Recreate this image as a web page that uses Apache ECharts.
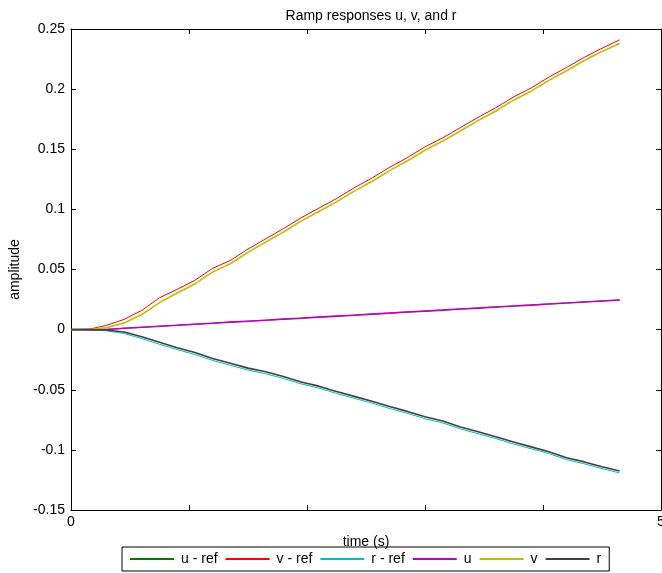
<!DOCTYPE html>
<html><head><meta charset="utf-8">
<script src="https://cdn.jsdelivr.net/npm/echarts@6/dist/echarts.min.js"></script>
<style>html,body{margin:0;padding:0;background:#fff}#c{width:662px;height:573px}</style>
</head><body><div id="c"></div>
<script>
const time = [0,0.15,0.3,0.45,0.6,0.75,0.9,1.05,1.2,1.35,1.5,1.65,1.8,1.95,2.1,2.25,2.4,2.55,2.7,2.85,3,3.15,3.3,3.45,3.6,3.75,3.9,4.05,4.2,4.35,4.5,4.65];
const uRef = [0,0,0.0002,0.0011,0.0019,0.0028,0.0037,0.0045,0.0054,0.0062,0.0070,0.0079,0.0087,0.0096,0.0104,0.0112,0.0121,0.0129,0.0138,0.0146,0.0154,0.0163,0.0171,0.0180,0.0188,0.0196,0.0205,0.0213,0.0222,0.0230,0.0238,0.0247];
const vRef = [0,0.0003,0.0035,0.0085,0.0160,0.0265,0.0335,0.0410,0.0510,0.0575,0.0670,0.0755,0.0840,0.0930,0.1010,0.1090,0.1180,0.1260,0.1350,0.1430,0.1520,0.1595,0.1680,0.1765,0.1845,0.1935,0.2010,0.2100,0.2180,0.2265,0.2340,0.2410];
const rRef = [0,-0.0002,-0.0010,-0.0032,-0.0075,-0.0122,-0.0166,-0.0207,-0.0256,-0.0296,-0.0336,-0.0367,-0.0406,-0.0451,-0.0486,-0.0531,-0.0571,-0.0611,-0.0656,-0.0696,-0.0741,-0.0776,-0.0826,-0.0866,-0.0906,-0.0951,-0.0991,-0.1031,-0.1081,-0.1116,-0.1156,-0.1192];
const u = [0,0,0.0001,0.0011,0.0020,0.0028,0.0036,0.0045,0.0053,0.0062,0.0070,0.0078,0.0087,0.0095,0.0104,0.0112,0.0120,0.0129,0.0137,0.0146,0.0154,0.0162,0.0171,0.0179,0.0188,0.0196,0.0204,0.0213,0.0221,0.0230,0.0238,0.0246];
const v = [0,0.0001,0.0015,0.0055,0.0125,0.0225,0.0305,0.0380,0.0478,0.0548,0.0642,0.0728,0.0812,0.0902,0.0982,0.1062,0.1152,0.1232,0.1322,0.1402,0.1492,0.1568,0.1652,0.1738,0.1818,0.1908,0.1983,0.2073,0.2153,0.2238,0.2313,0.2380];
const r = [0,0,-0.0003,-0.0020,-0.0060,-0.0105,-0.0150,-0.0190,-0.0240,-0.0280,-0.0320,-0.0350,-0.0390,-0.0435,-0.0470,-0.0515,-0.0555,-0.0595,-0.0640,-0.0680,-0.0725,-0.0760,-0.0810,-0.0850,-0.0890,-0.0935,-0.0975,-0.1015,-0.1065,-0.1100,-0.1140,-0.1176];
const seriesNames = ['u - ref','v - ref','r - ref','u','v','r'];
const seriesData = [uRef, vRef, rRef, u, v, r];
const colors = ['#008000','#ff0000','#00bfbf','#bf00bf','#bfbf00','#404040'];
const widths = [1,1,1,1.6,1.6,1.6];
const xTickLabels = ['0','5'];

const font = 'Liberation Sans, Arial, sans-serif';
const FS = 14;
const chart = echarts.init(document.getElementById('c'), null, {renderer:'canvas'});
const axisCommon = {
  axisLine:{show:true, onZero:false, lineStyle:{color:'#000', width:1}},
  axisTick:{show:true, inside:true, length:5, lineStyle:{color:'#000'}},
  splitLine:{show:false}
};
chart.setOption({
  animation:false,
  backgroundColor:'#fff',
  textStyle:{fontFamily:font},
  title:{text:'Ramp responses u, v, and r', left:366, textAlign:'center', top:4,
    textStyle:{fontSize:FS, fontWeight:'normal', color:'#000', fontFamily:font}},
  grid:{left:71, right:1, top:29, bottom:63, outerBoundsMode:'none', containLabel:false},
  legend:{
    data:seriesNames, left:122, top:547, orient:'horizontal', icon:'rect',
    itemWidth:44, itemHeight:2, itemGap:8,
    borderColor:'#000', borderWidth:1, padding:[5,8],
    textStyle:{fontSize:FS, color:'#000', fontFamily:font, padding:[0,0,0,2]}
  },
  xAxis:[
    Object.assign({type:'value', min:0, max:5, interval:1, position:'bottom',
      name:'time (s)', nameLocation:'middle', nameGap:25,
      nameTextStyle:{fontSize:FS, color:'#000', fontFamily:font},
      axisLabel:{color:'#000', fontSize:FS, margin:5, fontFamily:font,
        formatter:val => xTickLabels.includes(String(val)) ? String(val) : ''}}, axisCommon),
    Object.assign({type:'value', min:0, max:5, interval:1, position:'top',
      axisLabel:{show:false}}, axisCommon)
  ],
  yAxis:[
    Object.assign({type:'value', min:-0.15, max:0.25, interval:0.05, position:'left',
      name:'amplitude', nameLocation:'middle', nameGap:47, nameRotate:90,
      nameTextStyle:{fontSize:FS, color:'#000', fontFamily:font},
      axisLabel:{color:'#000', fontSize:FS, margin:6, fontFamily:font,
        formatter:val => String(parseFloat(val.toFixed(2)))}}, axisCommon),
    Object.assign({type:'value', min:-0.15, max:0.25, interval:0.05, position:'right',
      axisLabel:{show:false}}, axisCommon)
  ],
  series: seriesNames.map((nm,i)=>({
    name:nm, type:'line', symbol:'none', showSymbol:false,
    xAxisIndex:0, yAxisIndex:0,
    data: time.map((t,j)=>[t, seriesData[i][j]]),
    lineStyle:{color:colors[i], width:widths[i]},
    itemStyle:{color:colors[i]},
    z: 2 + i
  }))
});
</script></body></html>
